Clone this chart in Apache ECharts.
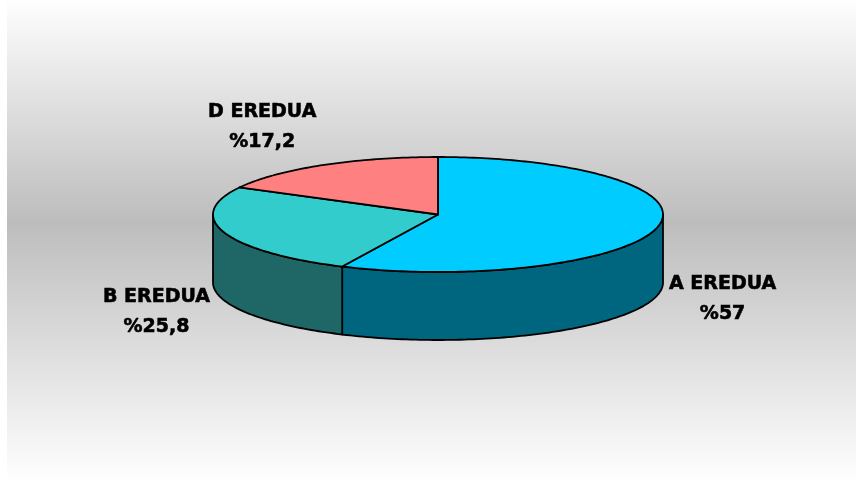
<!DOCTYPE html>
<html><head><meta charset="utf-8">
<script src="https://cdn.jsdelivr.net/npm/echarts@6/dist/echarts.min.js"></script>
<style>html,body{margin:0;padding:0;background:#fff}#c{width:856px;height:483px}</style>
</head><body><div id="c"></div>
<script>
const categories = ['A EREDUA', 'B EREDUA', 'D EREDUA'];
const values = [57, 25.8, 17.2];
const valueLabels = ['%57', '%25,8', '%17,2'];
const topColors = ['#00CCFF', '#33CCCC', '#FF8080'];
const sideColors = ['#006680', '#1F6666', '#993F3F'];
const labelOffsets = [[65, 72], [-68, 79], [-60, -38]];

const CX = 438, CY = 214.5, RX = 225, RY = 57.5, DEPTH = 68;
const total = values.reduce((a, b) => a + b, 0);
const slices = [];
let acc = 0;
values.forEach(v => {
  const a0 = Math.PI / 2 - acc / total * 2 * Math.PI;
  acc += v;
  const a1 = Math.PI / 2 - acc / total * 2 * Math.PI;
  slices.push([a0, a1]);
});
function pt(a, dy) { return [CX + RX * Math.cos(a), CY - RY * Math.sin(a) + (dy || 0)]; }
function arc(from, to, dy) {
  const n = Math.max(2, Math.ceil(Math.abs(to - from) / 0.02));
  const out = [];
  for (let k = 0; k <= n; k++) out.push(pt(from + (to - from) * k / n, dy));
  return out;
}
const chart = echarts.init(document.getElementById('c'));
const stroke = { stroke: '#000', lineWidth: 1.8, lineJoin: 'round' };
chart.setOption({
  animation: false,
  graphic: [{
    type: 'rect', z: -10, silent: true,
    shape: { x: 7, y: 0, width: 849, height: 483 },
    style: { fill: new echarts.graphic.LinearGradient(0, 0, 0, 1, [
      { offset: 0, color: '#fefefe' }, { offset: 0.46, color: '#bdbdbd' }, { offset: 1, color: '#ffffff' }]) }
  }],
  series: [{
    type: 'custom', coordinateSystem: 'none', z: 2, data: values,
    renderItem: function (params) {
      const i = params.dataIndex;
      const [a0, a1] = slices[i];
      const children = [];
      for (let k = -2; k <= 1; k++) {
        const lo = Math.max(a1, -Math.PI + 2 * Math.PI * k);
        const hi = Math.min(a0, 2 * Math.PI * k);
        if (hi > lo) {
          const top = arc(lo, hi, 0);
          const bot = arc(hi, lo, DEPTH);
          children.push({ type: 'polygon', shape: { points: top.concat(bot) },
            style: Object.assign({ fill: sideColors[i] }, stroke) });
        }
      }
      return { type: 'group', children: children };
    }
  }, {
    type: 'custom', coordinateSystem: 'none', z: 3, data: values,
    renderItem: function (params) {
      const i = params.dataIndex;
      const [a0, a1] = slices[i];
      const pts = [[CX, CY]].concat(arc(a0, a1, 0));
      const mid = pt((a0 + a1) / 2, 0);
      return { type: 'group', children: [
        { type: 'polygon', shape: { points: pts }, style: Object.assign({ fill: topColors[i] }, stroke) },
        { type: 'text', x: mid[0] + labelOffsets[i][0], y: mid[1] + labelOffsets[i][1],
          style: { text: categories[i] + '\n' + valueLabels[i], align: 'center', verticalAlign: 'middle',
            font: 'bold 19px "DejaVu Sans"', lineHeight: 30, fill: '#000',
            stroke: '#000', lineWidth: 0.6 } }
      ] };
    }
  }]
});
</script></body></html>
